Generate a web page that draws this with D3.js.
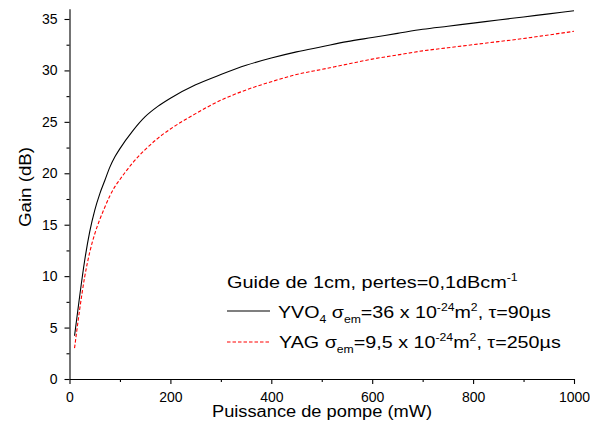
<!DOCTYPE html>
<html>
<head>
<meta charset="utf-8">
<script src="https://cdn.jsdelivr.net/npm/d3@7"></script>
<style>
  body { margin: 0; background: #fff; }
  svg { display: block; font-family: "Liberation Sans", Arial, sans-serif; }
</style>
</head>
<body>
<svg id="chart" width="590" height="423"></svg>
<script>
// ---- data ----
const powerYVO4 = [10, 20, 30, 40, 50, 60, 70, 80, 90, 100, 125, 150, 175, 200, 250, 300, 350, 400, 450, 500, 550, 600, 650, 700, 750, 800, 850, 900, 950, 1000];
const gainYVO4 = [4.2, 8.0, 11.5, 14.3, 16.4, 18.0, 19.3, 20.6, 21.6, 22.4, 24.1, 25.5, 26.5, 27.3, 28.6, 29.6, 30.5, 31.2, 31.8, 32.3, 32.8, 33.2, 33.6, 34.0, 34.3, 34.6, 34.9, 35.2, 35.5, 35.8];
const powerYAG = [10, 20, 30, 40, 50, 60, 70, 80, 90, 100, 125, 150, 175, 200, 250, 300, 350, 400, 450, 500, 550, 600, 650, 700, 750, 800, 850, 900, 950, 1000];
const gainYAG = [3.0, 6.7, 9.9, 12.3, 14.1, 15.5, 16.7, 17.8, 18.7, 19.4, 21.0, 22.3, 23.4, 24.3, 25.8, 27.1, 28.1, 28.9, 29.6, 30.1, 30.6, 31.1, 31.5, 31.9, 32.2, 32.5, 32.8, 33.1, 33.45, 33.8];
const xMajorTicks = [0, 200, 400, 600, 800, 1000];
const xMinorTicks = [100, 300, 500, 700, 900];
const yMajorTicks = [0, 5, 10, 15, 20, 25, 30, 35];
const yMinorTicks = [2.5, 7.5, 12.5, 17.5, 22.5, 27.5, 32.5];
const xTitle = "Puissance de pompe (mW)";
const yTitle = "Gain (dB)";

const svg = d3.select("#chart");
const x = d3.scaleLinear().domain([0, 1000]).range([69.5, 574]);
const y = d3.scaleLinear().domain([0, 36]).range([379, 8.7]);

// axes
svg.append("g").attr("transform", `translate(0,${y(0)})`)
  .call(d3.axisBottom(x).tickValues(xMajorTicks).tickSize(5).tickSizeOuter(0).tickPadding(8).tickFormat(d3.format("d")));
svg.append("g").attr("transform", `translate(0,${y(0)})`)
  .call(d3.axisBottom(x).tickValues(xMinorTicks).tickSize(3).tickFormat(""))
  .select(".domain").remove();
svg.append("g").attr("transform", `translate(${x(0)},0)`)
  .call(d3.axisLeft(y).tickValues(yMajorTicks).tickSize(5).tickSizeOuter(0).tickPadding(7));
svg.append("g").attr("transform", `translate(${x(0)},0)`)
  .call(d3.axisLeft(y).tickValues(yMinorTicks).tickSize(3).tickFormat(""))
  .select(".domain").remove();
svg.selectAll(".tick text").attr("font-size", 14).attr("fill", "#000")
  .attr("font-family", "Liberation Sans, Arial, sans-serif");
svg.selectAll(".domain, .tick line").attr("stroke", "#000").attr("stroke-width", 1.1);

// titles
svg.append("text").attr("x", 212).attr("y", 417)
  .attr("font-size", 16).attr("textLength", 220).attr("lengthAdjust", "spacingAndGlyphs").text(xTitle);
svg.append("text").attr("transform", "translate(31,227) rotate(-90)")
  .attr("font-size", 16).attr("textLength", 80).attr("lengthAdjust", "spacingAndGlyphs").text(yTitle);

// lines
const lineA = d3.line().x((d, i) => x(powerYVO4[i])).y(d => y(d)).curve(d3.curveMonotoneX);
const lineB = d3.line().x((d, i) => x(powerYAG[i])).y(d => y(d)).curve(d3.curveMonotoneX);
svg.append("path").datum(gainYVO4).attr("d", lineA)
  .attr("fill", "none").attr("stroke", "#000").attr("stroke-width", 1.1);
svg.append("path").datum(gainYAG).attr("d", lineB)
  .attr("fill", "none").attr("stroke", "#ff0000").attr("stroke-width", 1.1)
  .attr("stroke-dasharray", "3.5,2");

// legend rich text helper (stretched horizontally to match the reference widths)
function rich(x0, x1, yp, parts, size) {
  const g = svg.append("g");
  const t = g.append("text").attr("x", 0).attr("y", 0).attr("font-size", size);
  let cur = 0;
  parts.forEach(p => {
    const target = p.s === "sub" ? 5 : p.s === "sup" ? -7 : 0;
    t.append("tspan").attr("dy", target - cur)
      .attr("font-size", p.s ? size * 0.62 : size).text(p.t);
    cur = target;
  });
  const w = t.node().getBBox().width;
  g.attr("transform", `translate(${x0},${yp}) scale(${(x1 - x0) / w},1)`);
  return t;
}
const fs = 16.5;
rich(227, 518, 288, [{t: "Guide de 1cm, pertes=0,1dBcm"}, {t: "-1", s: "sup"}], fs);
svg.append("line").attr("x1", 227).attr("x2", 270).attr("y1", 311).attr("y2", 311)
  .attr("stroke", "#000").attr("stroke-width", 1.1);
rich(278, 551, 318, [{t: "YVO"}, {t: "4", s: "sub"}, {t: " σ"}, {t: "em", s: "sub"}, {t: "=36 x 10"},
  {t: "-24", s: "sup"}, {t: "m"}, {t: "2", s: "sup"}, {t: ", τ=90µs"}], fs);
svg.append("line").attr("x1", 227).attr("x2", 270).attr("y1", 342).attr("y2", 342)
  .attr("stroke", "#ff0000").attr("stroke-width", 1.1).attr("stroke-dasharray", "3.5,2");
rich(279, 561, 348, [{t: "YAG σ"}, {t: "em", s: "sub"}, {t: "=9,5 x 10"},
  {t: "-24", s: "sup"}, {t: "m"}, {t: "2", s: "sup"}, {t: ", τ=250µs"}], fs);
</script>
</body>
</html>
